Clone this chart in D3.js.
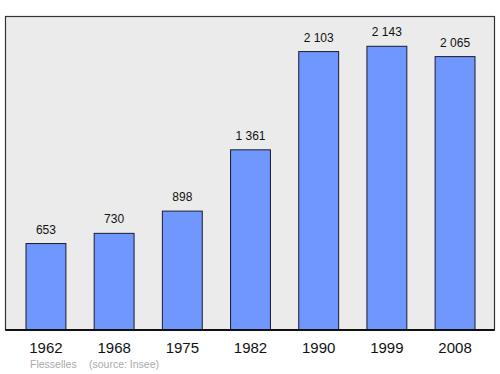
<!DOCTYPE html>
<html>
<head>
<meta charset="utf-8">
<script src="https://cdn.jsdelivr.net/npm/d3@7"></script>
<style>
  body { margin: 0; background: #fff; }
  text { font-family: "Liberation Sans", Arial, sans-serif; }
</style>
</head>
<body>
<div id="chart-area"></div>
<script>
// population par recensement
var years = ["1962", "1968", "1975", "1982", "1990", "1999", "2008"];
var population = [653, 730, 898, 1361, 2103, 2143, 2065];
var valueLabels = ["653", "730", "898", "1 361", "2 103", "2 143", "2 065"];
var commune = "Flesselles";
var source = "(source: Insee)";

var width = 500, height = 374;
var frame = { left: 5.5, top: 16.5, right: 494.5, bottom: 330 };

var svg = d3.select("#chart-area")
    .append("svg")
        .attr("width", width)
        .attr("height", height);

var x = d3.scaleBand()
    .domain(years)
    .range([26, 475])
    .paddingInner(0.415)
    .paddingOuter(0);

var y = d3.scaleLinear()
    .domain([0, 2368])
    .range([frame.bottom, frame.top]);

// cadre
svg.append("rect")
    .attr("x", frame.left)
    .attr("y", frame.top)
    .attr("width", frame.right - frame.left)
    .attr("height", frame.bottom - frame.top)
    .attr("fill", "#ebebeb")
    .attr("stroke", "#333")
    .attr("stroke-width", 1.2);

// barres
svg.selectAll("rect.bar")
    .data(population)
    .join("rect")
        .attr("class", "bar")
        .attr("x", (d, i) => x(years[i]))
        .attr("y", d => y(d))
        .attr("width", x.bandwidth())
        .attr("height", d => y(0) - y(d))
        .attr("fill", "#7097fd")
        .attr("stroke", "#1a1a2e")
        .attr("stroke-width", 1);

// valeurs
svg.selectAll("text.val")
    .data(population)
    .join("text")
        .attr("class", "val")
        .attr("x", (d, i) => x(years[i]) + x.bandwidth() / 2)
        .attr("y", d => y(d) - 10)
        .attr("text-anchor", "middle")
        .attr("font-size", 12)
        .attr("fill", "#111")
        .text((d, i) => valueLabels[i]);

// axe des x
var xAxis = svg.append("g")
    .attr("transform", "translate(0," + frame.bottom + ")")
    .call(d3.axisBottom(x).tickSize(0).tickPadding(12));
xAxis.select(".domain")
    .attr("d", "M" + frame.left + ",0H" + frame.right)
    .attr("stroke", "#111")
    .attr("stroke-width", 2);
xAxis.selectAll("text")
    .attr("font-family", "'Liberation Sans', Arial, sans-serif")
    .attr("font-size", 15)
    .attr("fill", "#111");

// pied
svg.append("text")
    .attr("x", 30)
    .attr("y", 368)
    .attr("font-size", 10.5)
    .attr("fill", "#aaa")
    .text(commune);
svg.append("text")
    .attr("x", 89)
    .attr("y", 368)
    .attr("font-size", 10.5)
    .attr("fill", "#aaa")
    .text(source);
</script>
</body>
</html>
